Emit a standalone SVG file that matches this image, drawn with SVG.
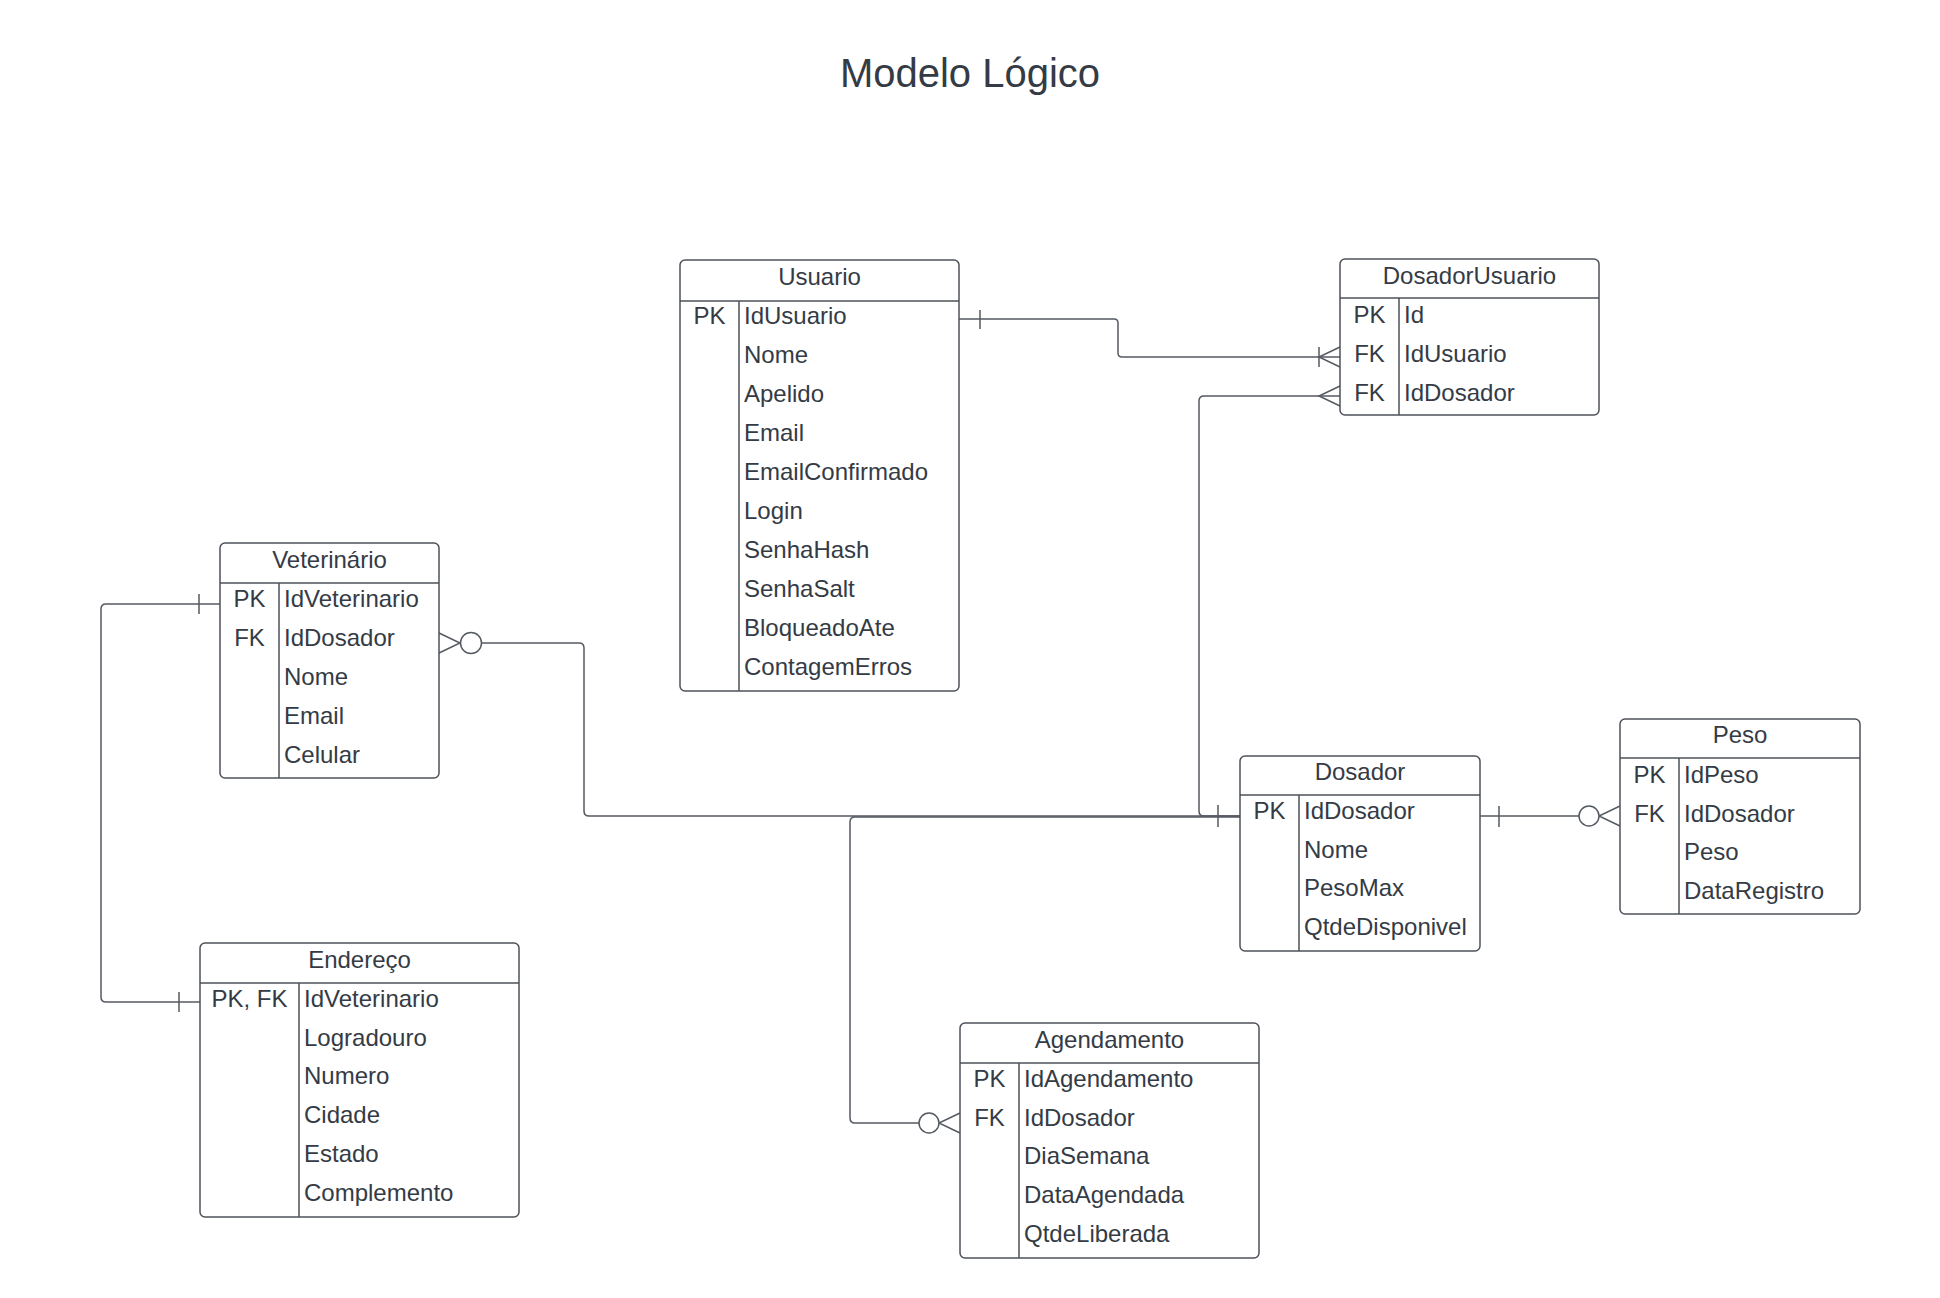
<svg xmlns="http://www.w3.org/2000/svg" width="1940" height="1298" viewBox="0 0 1940 1298">
<style>
.box{fill:#ffffff;stroke:#4d5259;stroke-width:1.5}
.ln{fill:none;stroke:#4d5259;stroke-width:1.5}
.con{fill:none;stroke:#555a61;stroke-width:1.5}
.circ{fill:#ffffff;stroke:#555a61;stroke-width:1.5}
text{font-family:"Liberation Sans",Arial,sans-serif;fill:#343b45}
.h{font-size:24px;text-anchor:middle}
.k{font-size:24px;text-anchor:middle}
.f{font-size:24px}
.title{font-size:40px;text-anchor:middle}
</style>
<rect width="1940" height="1298" fill="#ffffff"/>
<text class="title" x="970" y="87">Modelo Lógico</text>

<g id="connectors">
  <!-- Usuario -> DosadorUsuario -->
  <path class="con" d="M959,319 H1114 Q1118,319 1118,323 V353 Q1118,357 1122,357 H1340"/>
  <line class="con" x1="980" y1="310" x2="980" y2="329"/>
  <line class="con" x1="1319" y1="347" x2="1319" y2="367"/>
  <path class="con" d="M1340,347 L1319,357 L1340,367"/>
  <!-- DosadorUsuario -> Dosador -->
  <path class="con" d="M1340,396 H1204 Q1199,396 1199,401 V811 Q1199,816 1204,816 H1240"/>
  <path class="con" d="M1340,386 L1319,396 L1340,406"/>
  <line class="con" x1="1218" y1="805" x2="1218" y2="827"/>
  <!-- Veterinario -> Dosador -->
  <path class="con" d="M481,643 H579 Q584,643 584,648 V811 Q584,816 589,816 H1240"/>
  <path class="con" d="M439,633 L460,643 L439,653"/>
  <circle class="circ" cx="471" cy="643" r="10.5"/>
  <!-- Agendamento -> Dosador -->
  <path class="con" d="M1240,817 H855 Q850,817 850,822 V1118 Q850,1123 855,1123 H919"/>
  <path class="con" d="M960,1113 L939,1123 L960,1133"/>
  <circle class="circ" cx="929" cy="1123" r="10"/>
  <!-- Dosador -> Peso -->
  <path class="con" d="M1480,816 H1579"/>
  <line class="con" x1="1499" y1="806" x2="1499" y2="827"/>
  <path class="con" d="M1620,806 L1599,816 L1620,826"/>
  <circle class="circ" cx="1589" cy="816" r="10"/>
  <!-- Veterinario -> Endereco -->
  <path class="con" d="M220,604 H106 Q101,604 101,609 V997 Q101,1002 106,1002 H200"/>
  <line class="con" x1="199" y1="594" x2="199" y2="614"/>
  <line class="con" x1="179" y1="992" x2="179" y2="1012"/>
</g>

<g id="usuario">
  <rect class="box" x="680" y="260" width="279" height="431" rx="5"/>
  <line class="ln" x1="680" y1="301" x2="959" y2="301"/>
  <line class="ln" x1="739" y1="301" x2="739" y2="691"/>
  <text class="h" x="819.5" y="285">Usuario</text>
  <text class="k" x="709.5" y="324">PK</text>
  <text class="f" x="744" y="324">IdUsuario</text>
  <text class="f" x="744" y="363">Nome</text>
  <text class="f" x="744" y="402">Apelido</text>
  <text class="f" x="744" y="441">Email</text>
  <text class="f" x="744" y="480">EmailConfirmado</text>
  <text class="f" x="744" y="519">Login</text>
  <text class="f" x="744" y="558">SenhaHash</text>
  <text class="f" x="744" y="597">SenhaSalt</text>
  <text class="f" x="744" y="636">BloqueadoAte</text>
  <text class="f" x="744" y="675">ContagemErros</text>
</g>

<g id="dosadorusuario">
  <rect class="box" x="1340" y="259" width="259" height="156" rx="5"/>
  <line class="ln" x1="1340" y1="298" x2="1599" y2="298"/>
  <line class="ln" x1="1399" y1="298" x2="1399" y2="415"/>
  <text class="h" x="1469.5" y="284">DosadorUsuario</text>
  <text class="k" x="1369.5" y="323">PK</text>
  <text class="f" x="1404" y="323">Id</text>
  <text class="k" x="1369.5" y="362">FK</text>
  <text class="f" x="1404" y="362">IdUsuario</text>
  <text class="k" x="1369.5" y="401">FK</text>
  <text class="f" x="1404" y="401">IdDosador</text>
</g>

<g id="veterinario">
  <rect class="box" x="220" y="543" width="219" height="235" rx="5"/>
  <line class="ln" x1="220" y1="583" x2="439" y2="583"/>
  <line class="ln" x1="279" y1="583" x2="279" y2="778"/>
  <text class="h" x="329.5" y="568">Veterinário</text>
  <text class="k" x="249.5" y="607">PK</text>
  <text class="f" x="284" y="607">IdVeterinario</text>
  <text class="k" x="249.5" y="646">FK</text>
  <text class="f" x="284" y="646">IdDosador</text>
  <text class="f" x="284" y="685">Nome</text>
  <text class="f" x="284" y="724">Email</text>
  <text class="f" x="284" y="763">Celular</text>
</g>

<g id="dosador">
  <rect class="box" x="1240" y="756" width="240" height="195" rx="5"/>
  <line class="ln" x1="1240" y1="795" x2="1480" y2="795"/>
  <line class="ln" x1="1299" y1="795" x2="1299" y2="951"/>
  <text class="h" x="1360" y="780">Dosador</text>
  <text class="k" x="1269.5" y="819">PK</text>
  <text class="f" x="1304" y="819">IdDosador</text>
  <text class="f" x="1304" y="858">Nome</text>
  <text class="f" x="1304" y="896">PesoMax</text>
  <text class="f" x="1304" y="935">QtdeDisponivel</text>
</g>

<g id="peso">
  <rect class="box" x="1620" y="719" width="240" height="195" rx="5"/>
  <line class="ln" x1="1620" y1="758" x2="1860" y2="758"/>
  <line class="ln" x1="1679" y1="758" x2="1679" y2="914"/>
  <text class="h" x="1740" y="743">Peso</text>
  <text class="k" x="1649.5" y="783">PK</text>
  <text class="f" x="1684" y="783">IdPeso</text>
  <text class="k" x="1649.5" y="822">FK</text>
  <text class="f" x="1684" y="822">IdDosador</text>
  <text class="f" x="1684" y="860">Peso</text>
  <text class="f" x="1684" y="899">DataRegistro</text>
</g>

<g id="endereco">
  <rect class="box" x="200" y="943" width="319" height="274" rx="5"/>
  <line class="ln" x1="200" y1="983" x2="519" y2="983"/>
  <line class="ln" x1="299" y1="983" x2="299" y2="1217"/>
  <text class="h" x="359.5" y="968">Endereço</text>
  <text class="k" x="249.5" y="1007">PK, FK</text>
  <text class="f" x="304" y="1007">IdVeterinario</text>
  <text class="f" x="304" y="1046">Logradouro</text>
  <text class="f" x="304" y="1084">Numero</text>
  <text class="f" x="304" y="1123">Cidade</text>
  <text class="f" x="304" y="1162">Estado</text>
  <text class="f" x="304" y="1201">Complemento</text>
</g>

<g id="agendamento">
  <rect class="box" x="960" y="1023" width="299" height="235" rx="5"/>
  <line class="ln" x1="960" y1="1063" x2="1259" y2="1063"/>
  <line class="ln" x1="1019" y1="1063" x2="1019" y2="1258"/>
  <text class="h" x="1109.5" y="1048">Agendamento</text>
  <text class="k" x="989.5" y="1087">PK</text>
  <text class="f" x="1024" y="1087">IdAgendamento</text>
  <text class="k" x="989.5" y="1126">FK</text>
  <text class="f" x="1024" y="1126">IdDosador</text>
  <text class="f" x="1024" y="1164">DiaSemana</text>
  <text class="f" x="1024" y="1203">DataAgendada</text>
  <text class="f" x="1024" y="1242">QtdeLiberada</text>
</g>
</svg>
